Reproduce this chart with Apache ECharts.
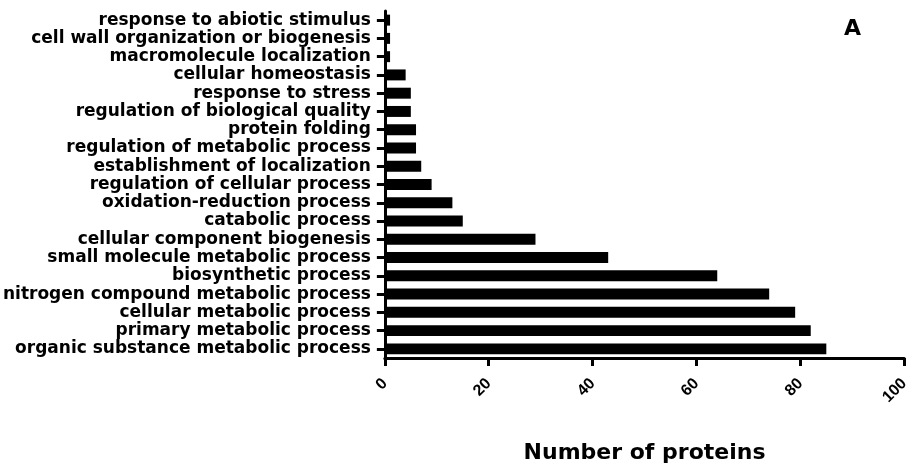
<!DOCTYPE html>
<html><head><meta charset="utf-8">
<script src="https://cdn.jsdelivr.net/npm/echarts@6/dist/echarts.min.js"></script>
<style>html,body{margin:0;padding:0;background:#fff}#c{width:912px;height:470px}</style>
</head><body><div id="c"></div>
<script>
var categories = [
  "organic substance metabolic process",
  "primary metabolic process",
  "cellular metabolic process",
  "nitrogen compound metabolic process",
  "biosynthetic process",
  "small molecule metabolic process",
  "cellular component biogenesis",
  "catabolic process",
  "oxidation-reduction process",
  "regulation of cellular process",
  "establishment of localization",
  "regulation of metabolic process",
  "protein folding",
  "regulation of biological quality",
  "response to stress",
  "cellular homeostasis",
  "macromolecule localization",
  "cell wall organization or biogenesis",
  "response to abiotic stimulus"
];
var proteins = [85, 82, 79, 74, 64, 43, 29, 15, 13, 9, 7, 6, 6, 5, 5, 4, 1, 1, 1];
var xTicks = [0, 20, 40, 60, 80, 100];

var font = "DejaVu Sans, sans-serif";
var chart = echarts.init(document.getElementById('c'));
chart.setOption({
  animation: false,
  backgroundColor: '#fff',
  grid: {left: 384, right: 6, top: 11, bottom: 112, containLabel: false},
  title: {text: 'A', right: 46, top: 13, textStyle: {fontSize: 22, fontWeight: 'bold', color: '#000', fontFamily: font}},
  xAxis: {
    type: 'value', min: xTicks[0], max: xTicks[xTicks.length - 1], interval: 20,
    name: 'Number of proteins', nameLocation: 'middle', nameGap: 84,
    nameTextStyle: {fontSize: 22, fontWeight: 'bold', color: '#000', fontFamily: font},
    axisLine: {show: true, lineStyle: {color: '#000', width: 3}},
    axisTick: {show: true, length: 8, lineStyle: {color: '#000', width: 3}},
    splitLine: {show: false},
    axisLabel: {rotate: 45, fontSize: 16, fontWeight: 'bold', color: '#000', fontFamily: "Liberation Sans, Arial, sans-serif", margin: 23}
  },
  yAxis: {
    type: 'category', data: categories,
    axisLine: {show: true, lineStyle: {color: '#000', width: 3}},
    axisTick: {show: true, alignWithLabel: true, length: 8, lineStyle: {color: '#000', width: 3}},
    axisLabel: {interval: 0, fontSize: 17, fontWeight: 'bold', color: '#000', fontFamily: font, margin: 14}
  },
  series: [{
    type: 'bar', data: proteins, barCategoryGap: '40%',
    itemStyle: {color: '#000'}
  }]
});
</script></body></html>
